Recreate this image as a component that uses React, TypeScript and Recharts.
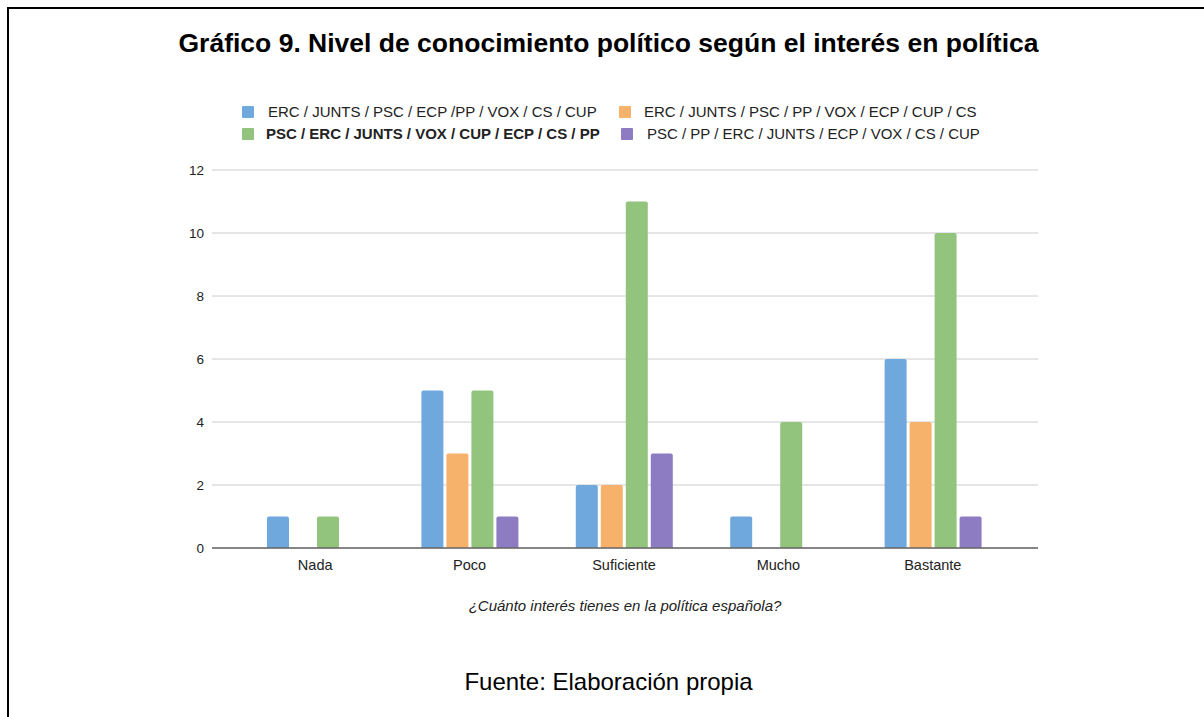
import React from 'react';
import { BarChart, Bar, XAxis, YAxis, CartesianGrid } from 'recharts';

const categories = ['Nada', 'Poco', 'Suficiente', 'Mucho', 'Bastante'];
const seriesNames = [
  'ERC / JUNTS / PSC / ECP /PP / VOX / CS / CUP',
  'ERC / JUNTS / PSC / PP / VOX / ECP / CUP / CS',
  'PSC / ERC / JUNTS / VOX / CUP / ECP / CS / PP',
  'PSC / PP / ERC / JUNTS / ECP / VOX / CS / CUP',
];
const seriesA = [1, 5, 2, 1, 6];
const seriesB = [0, 3, 2, 0, 4];
const seriesC = [1, 5, 11, 4, 10];
const seriesD = [0, 1, 3, 0, 1];
const yTicks = [0, 2, 4, 6, 8, 10, 12];
const colors = ['#6fa8dc', '#f6b26b', '#93c47d', '#8e7cc3'];
const keys = ['a', 'b', 'c', 'd'];

const data = categories.map((name, i) => ({
  name,
  a: seriesA[i],
  b: seriesB[i],
  c: seriesC[i],
  d: seriesD[i],
}));

const FONT = '"Liberation Sans", Arial, sans-serif';

const legendPos = [
  { left: 242, top: 112, textLeft: 268, bold: false },
  { left: 619, top: 112, textLeft: 644, bold: false },
  { left: 242, top: 134, textLeft: 266, bold: true },
  { left: 621, top: 134, textLeft: 647, bold: false },
];

export default function App() {
  return (
    <div
      style={{
        position: 'absolute',
        left: 0,
        top: 0,
        width: 1204,
        height: 717,
        background: '#fff',
        fontFamily: FONT,
        overflow: 'hidden',
      }}
    >
      <div
        style={{
          position: 'absolute',
          left: 7,
          top: 7,
          width: 1204,
          height: 717,
          borderLeft: '2px solid #000',
          borderTop: '2px solid #000',
        }}
      />
      <div
        style={{
          position: 'absolute',
          left: 0,
          width: 1217,
          top: 27,
          textAlign: 'center',
          fontSize: 26.5,
          fontWeight: 'bold',
          color: '#000',
          lineHeight: '32px',
          whiteSpace: 'nowrap',
        }}
      >
        Gráfico 9. Nivel de conocimiento político según el interés en política
      </div>
      {seriesNames.map((s, i) => (
        <React.Fragment key={s}>
          <div
            style={{
              position: 'absolute',
              left: legendPos[i].left,
              top: legendPos[i].top - 6,
              width: 12,
              height: 12,
              background: colors[i],
              borderRadius: 1,
            }}
          />
          <div
            style={{
              position: 'absolute',
              left: legendPos[i].textLeft,
              top: legendPos[i].top - 9,
              fontSize: 15,
              lineHeight: '18px',
              whiteSpace: 'nowrap',
              fontWeight: legendPos[i].bold ? 'bold' : 'normal',
              color: '#222',
            }}
          >
            {s}
          </div>
        </React.Fragment>
      ))}
      <div style={{ position: 'absolute', left: 0, top: 0 }}>
        <BarChart
          width={1204}
          height={717}
          data={data}
          margin={{ top: 170, right: 166, left: 152, bottom: 139 }}
          barSize={22}
          barGap={3}
        >
          <CartesianGrid vertical={false} stroke="#cccccc" />
          <XAxis
            dataKey="name"
            padding={{ left: 26, right: 28 }}
            tickLine={false}
            axisLine={{ stroke: '#666666', strokeWidth: 1.5 }}
            tick={{ fill: '#222', fontSize: 14.5, fontFamily: FONT }}
            tickMargin={6}
            height={30}
          />
          <YAxis
            domain={[0, 12]}
            ticks={yTicks}
            width={60}
            tickLine={false}
            axisLine={false}
            tick={{ fill: '#222', fontSize: 13.5, fontFamily: FONT }}
            interval={0}
          />
          {keys.map((k, i) => (
            <Bar
              key={k}
              dataKey={k}
              name={seriesNames[i]}
              fill={colors[i]}
              radius={[2, 2, 0, 0]}
              isAnimationActive={false}
            />
          ))}
        </BarChart>
      </div>
      <div
        style={{
          position: 'absolute',
          left: 212,
          width: 826,
          top: 597,
          textAlign: 'center',
          fontSize: 15,
          fontStyle: 'italic',
          color: '#222',
          lineHeight: '18px',
          whiteSpace: 'nowrap',
        }}
      >
        ¿Cuánto interés tienes en la política española?
      </div>
      <div
        style={{
          position: 'absolute',
          left: 0,
          width: 1217,
          top: 668,
          textAlign: 'center',
          fontSize: 24,
          color: '#000',
          lineHeight: '28px',
          whiteSpace: 'nowrap',
        }}
      >
        Fuente: Elaboración propia
      </div>
    </div>
  );
}
